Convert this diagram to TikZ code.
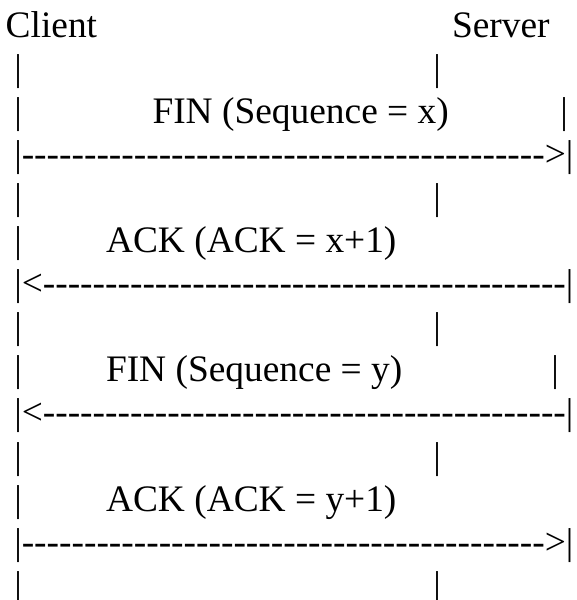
\documentclass[tikz,border=0pt]{standalone}
\usepackage{fontspec}
\newfontfamily\ascfont{Liberation Serif}[Ligatures=TeXOff]
\newcommand\mydashes{----------------------------------------}
\begin{document}
\begin{tikzpicture}[x=1pt,y=-1pt,
  asc/.style={font=\ascfont\fontsize{37.4pt}{40pt}\selectfont, anchor=base west, inner sep=0pt, outer sep=0pt, text=black}]
\useasboundingbox (0,0) rectangle (577,600);
% line 0
\node[asc] (client) at (5.7,37) {Client};
\node[asc] (server) at (452,37) {Server};
% line 1
\node[asc] (l1a) at (14.3,80.1) {|};
\node[asc] (l1b) at (433.3,80.1) {|};
% line 2
\node[asc] (l2a) at (14.3,123.2) {|};
\node[asc] (fin1) at (152.5,123.2) {FIN (Sequence = x)};
\node[asc] (l2b) at (560.3,123.2) {|};
% line 3
\node[asc] (arr1) at (14.3,166.3) {|\mydashes-->|};
% line 4
\node[asc] (l4a) at (14.3,209.4) {|};
\node[asc] (l4b) at (433.3,209.4) {|};
% line 5
\node[asc] (l5a) at (14.3,252.5) {|};
\node[asc] (ack1) at (106,252.5) {ACK (ACK = x+1)};
\node[asc] (l5b) at (574.3,252.5) {|};
% line 6
\node[asc] (arr2) at (14.3,295.6) {|<\mydashes--|};
% line 7
\node[asc] (l7a) at (14.3,338.7) {|};
\node[asc] (l7b) at (433.3,338.7) {|};
% line 8
\node[asc] (l8a) at (14.3,381.8) {|};
\node[asc] (fin2) at (106,381.8) {FIN (Sequence = y)};
\node[asc] (l8b) at (551.3,381.8) {|};
% line 9
\node[asc] (arr3) at (14.3,424.9) {|<\mydashes--|};
% line 10
\node[asc] (l10a) at (14.3,468) {|};
\node[asc] (l10b) at (433.3,468) {|};
% line 11
\node[asc] (l11a) at (14.3,511.1) {|};
\node[asc] (ack2) at (106,511.1) {ACK (ACK = y+1)};
\node[asc] (l11b) at (574.3,511.1) {|};
% line 12
\node[asc] (arr4) at (14.3,554.2) {|\mydashes-->|};
% line 13
\node[asc] (l13a) at (14.3,597.3) {|};
\node[asc] (l13b) at (433.3,597.3) {|};
\end{tikzpicture}
\end{document}
